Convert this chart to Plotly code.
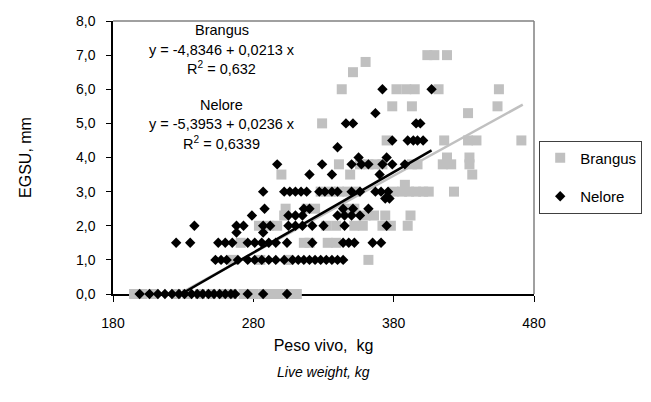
import plotly.graph_objects as go

# ---------------- data ----------------
# Brangus (grey squares)
brangus_peso = [
    195, 201, 209, 225, 233, 242, 250, 258, 265, 273, 280, 287, 292, 298, 305, 311,
    265, 285, 305, 362,
    271, 316, 320, 333, 339,
    284, 291, 297, 332, 339, 352, 358, 372, 378, 390,
    302, 360, 366, 374, 392,
    303, 318, 324, 345, 352,
    328, 335, 341, 347, 353, 380, 386, 391, 396, 401, 405, 423,
    388,
    300, 349, 436,
    341, 356, 362, 367, 372, 393, 397, 415, 421, 434,
    418, 434,
    375, 416, 433, 439, 471,
    329,
    433,
    379, 393, 454,
    343, 382, 389, 395, 412, 455,
    351,
    360,
    404, 409, 418,
]
brangus_egsu = (
    [0.0] * 16 + [1.0] * 4 + [1.5] * 5 + [2.0] * 10 + [2.3] * 5 + [2.5] * 5 +
    [3.0] * 12 + [3.2] * 1 + [3.5] * 3 + [3.8] * 10 + [4.0] * 2 + [4.5] * 5 +
    [5.0] * 1 + [5.3] * 1 + [5.5] * 3 + [6.0] * 6 + [6.5] * 1 + [6.8] * 1 + [7.0] * 3
)

# Nelore (black diamonds)
nelore_peso = [
    199, 206, 212, 217, 222, 227, 231, 236, 240, 244, 248, 252, 256, 260, 264, 267, 276, 287, 304,
    253, 257, 261, 269, 276, 281, 286, 291, 296, 302, 308, 312, 316, 320, 324, 328, 332, 336, 340, 344,
    225, 235, 255, 260, 265, 276, 281, 286, 291, 296, 304, 322, 344, 348, 352, 365, 371,
    268, 287,
    238, 268, 273, 287, 292, 305, 310, 315, 322, 330, 345, 375,
    279, 305, 310, 315, 340, 345, 350, 356,
    288, 316, 320, 344, 351, 362,
    374, 377,
    287, 302, 306, 310, 314, 318, 327, 331, 336, 340, 350, 356, 367, 371, 376,
    320, 336, 370,
    297, 329, 350, 357, 362, 372, 379, 388,
    355, 375,
    340,
    379, 390, 394, 397, 401,
    346, 351, 396, 399,
    367,
    372, 407,
]
nelore_egsu = (
    [0.0] * 19 + [1.0] * 20 + [1.5] * 17 + [1.8] * 2 + [2.0] * 12 + [2.3] * 8 +
    [2.5] * 6 + [2.8] * 2 + [3.0] * 15 + [3.5] * 3 + [3.8] * 8 + [4.0] * 2 +
    [4.3] * 1 + [4.5] * 5 + [5.0] * 4 + [5.3] * 1 + [6.0] * 2
)

# trend lines (end points as drawn in the reference)
brangus_fit_peso = [227, 472]
brangus_fit_egsu = [0.0, 5.55]
nelore_fit_peso = [228.6, 407]
nelore_fit_egsu = [0.0, 4.21]

x_ticks = [180, 280, 380, 480]
y_ticks = [0, 1, 2, 3, 4, 5, 6, 7, 8]

GREY = "#c0c0c0"
FONT = "Liberation Sans, Arial, Helvetica, sans-serif"

fig = go.Figure()

fig.add_trace(go.Scatter(
    x=brangus_peso, y=brangus_egsu, mode="markers", name="Brangus",
    legendgroup="b",
    marker=dict(symbol="square", size=10, color=GREY, line=dict(width=0)),
    cliponaxis=False,
))
fig.add_trace(go.Scatter(
    x=brangus_fit_peso, y=brangus_fit_egsu, mode="lines", showlegend=False,
    line=dict(color=GREY, width=2.5),
))
fig.add_trace(go.Scatter(
    x=nelore_peso, y=nelore_egsu, mode="markers", name="Nelore",
    legendgroup="n",
    marker=dict(symbol="diamond", size=8, color="black", line=dict(width=0)),
    cliponaxis=False,
))
fig.add_trace(go.Scatter(
    x=nelore_fit_peso, y=nelore_fit_egsu, mode="lines", showlegend=False,
    line=dict(color="black", width=2.5),
))

ann_x = 257.6
annotations = [
    ("Brangus", 7.74),
    ("y = -4,8346 + 0,0213 x", 7.16),
    ("R<sup>2</sup> = 0,632", 6.63),
    ("Nelore", 5.54),
    ("y = -5,3953 + 0,0236 x", 4.99),
    ("R<sup>2</sup> = 0,6339", 4.43),
]
for txt, yy in annotations:
    fig.add_annotation(x=ann_x, y=yy, xref="x", yref="y", text=txt,
                       showarrow=False, font=dict(family=FONT, size=14.5, color="black"),
                       xanchor="center", yanchor="middle")

fig.add_annotation(x=0.5, y=-0.285, xref="paper", yref="paper",
                   text="<i>Live weight, kg</i>", showarrow=False,
                   font=dict(family=FONT, size=14, color="black"),
                   xanchor="center", yanchor="middle")

# top and right frame lines (grey)
fig.add_shape(type="line", xref="paper", yref="paper", x0=0, x1=1, y0=1, y1=1,
              line=dict(color="#808080", width=1.5))
fig.add_shape(type="line", xref="paper", yref="paper", x0=1, x1=1, y0=0, y1=1,
              line=dict(color="#808080", width=1.5))

# the page body adds an 8px margin on every side, so the figure is sized
# to fit exactly inside the 651x402 window
fig.update_layout(
    width=635, height=386,
    margin=dict(l=105, r=109, t=13, b=100, autoexpand=False),
    plot_bgcolor="white", paper_bgcolor="white",
    separators=",.",
    font=dict(family=FONT, size=14, color="black"),
    showlegend=True,
    legend=dict(x=1.257, y=0.562, xanchor="right", yanchor="top",
                bordercolor="#404040", borderwidth=1,
                font=dict(family=FONT, size=15, color="black"),
                tracegroupgap=16, bgcolor="white", itemwidth=30),
    xaxis=dict(range=[180, 480], tickvals=x_ticks, ticks="outside", ticklen=6,
               tickcolor="black", tickwidth=1, showline=True, linecolor="black",
               linewidth=1.5, showgrid=False, zeroline=False, layer="below traces",
               automargin=False,
               ticklabelstandoff=9, tickfont=dict(size=14),
               title=dict(text="Peso vivo,  kg", font=dict(size=16), standoff=10)),
    yaxis=dict(range=[0, 8], tickvals=y_ticks, tickformat=".1f", ticks="outside",
               ticklen=5, tickcolor="black", tickwidth=1, showline=True,
               linecolor="black", linewidth=1.5, showgrid=False, zeroline=False,
               layer="below traces", automargin=False,
               ticklabelstandoff=8, tickfont=dict(size=14),
               title=dict(text="EGSU, mm", font=dict(size=16), standoff=40)),
)

fig.write_html("out.html")
